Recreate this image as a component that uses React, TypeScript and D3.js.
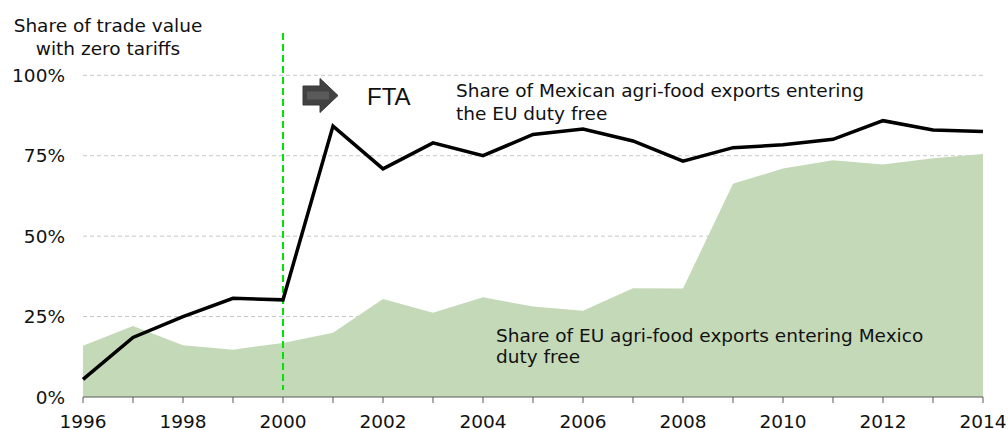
import React from 'react';
import * as d3 from 'd3';

const years = [1996, 1997, 1998, 1999, 2000, 2001, 2002, 2003, 2004, 2005, 2006, 2007, 2008, 2009, 2010, 2011, 2012, 2013, 2014];
const mexicoToEU = [5.5, 18.5, 25.0, 30.7, 30.2, 84.2, 70.9, 79.0, 75.0, 81.6, 83.3, 79.6, 73.3, 77.5, 78.4, 80.1, 85.9, 83.0, 82.5];
const euToMexico = [15.9, 22.1, 16.1, 14.7, 16.8, 20.0, 30.5, 26.2, 31.0, 28.1, 26.8, 33.8, 33.7, 66.3, 71.0, 73.6, 72.3, 74.2, 75.5];
const yTicks = [0, 25, 50, 75, 100];
const xTicks = [1996, 1997, 1998, 1999, 2000, 2001, 2002, 2003, 2004, 2005, 2006, 2007, 2008, 2009, 2010, 2011, 2012, 2013, 2014];
const xLabels = [1996, 1998, 2000, 2002, 2004, 2006, 2008, 2010, 2012, 2014];
const ftaYear = 2000;

const FONT = '"DejaVu Sans", Verdana, sans-serif';
const FS = 18.5;

export default function App() {
  const W = 1008, H = 430;
  const x = d3.scaleLinear().domain([1996, 2014]).range([83, 983]);
  const y = d3.scaleLinear().domain([0, 100]).range([397, 75.3]);

  const area = d3.area<number>()
    .x((_, i) => x(years[i]))
    .y0(y(0))
    .y1(d => y(d));
  const line = d3.line<number>()
    .x((_, i) => x(years[i]))
    .y(d => y(d));

  const ax = x(ftaYear) + 20;
  const ay = 95.5;

  return (
    <svg width={W} height={H} style={{ position: 'absolute', left: 0, top: 0, background: '#fff' }} fontFamily={FONT}>
      {yTicks.filter(t => t > 0).map(t => (
        <line key={t} x1={x(1996)} x2={x(2014)} y1={y(t)} y2={y(t)} stroke="#c6c6c6" strokeWidth={1} strokeDasharray="4,3" />
      ))}
      <path d={area(euToMexico) || ''} fill="#c4d9b7" />
      <line x1={x(1996)} x2={x(2014)} y1={y(0)} y2={y(0)} stroke="#595959" strokeWidth={1} />
      {xTicks.map(t => (
        <line key={t} x1={x(t)} x2={x(t)} y1={y(0)} y2={y(0) + 6} stroke="#595959" strokeWidth={1} />
      ))}
      {xLabels.map(t => (
        <text key={t} x={x(t)} y={427.5} textAnchor="middle" fontSize={FS} fill="#111">{t}</text>
      ))}
      {yTicks.map(t => (
        <text key={t} x={65} y={y(t) + 6.5} textAnchor="end" fontSize={FS} fill="#111">{t}%</text>
      ))}
      <line x1={x(ftaYear)} x2={x(ftaYear)} y1={33} y2={390} stroke="#00e600" strokeWidth={2} strokeDasharray="7,4" />
      <path d={line(mexicoToEU) || ''} fill="none" stroke="#000" strokeWidth={3.5} strokeLinejoin="miter" />
      <polygon
        points={`${ax},${ay - 9.5} ${ax + 17},${ay - 9.5} ${ax + 17},${ay - 17} ${ax + 35},${ay} ${ax + 17},${ay + 17} ${ax + 17},${ay + 9.5} ${ax},${ay + 9.5}`}
        fill="#424242" stroke="#383838" strokeWidth={1}
      />
      <rect x={ax + 4} y={ay - 4} width={22} height={8} fill="#5a5a5a" />
      <text x={367} y={105} fontSize={24} fontFamily='"Liberation Sans", Arial, sans-serif' fill="#111">FTA</text>
      <text x={108} y={32} textAnchor="middle" fontSize={FS} fill="#111">
        <tspan x={108}>Share of trade value</tspan>
        <tspan x={108} dy={22.5}>with zero tariffs</tspan>
      </text>
      <text x={456} y={97} fontSize={FS} fill="#111">
        <tspan x={456}>Share of Mexican agri-food exports entering</tspan>
        <tspan x={456} dy={22.5}>the EU duty free</tspan>
      </text>
      <text x={496} y={341.5} fontSize={FS} fill="#111">
        <tspan x={496}>Share of EU agri-food exports entering Mexico</tspan>
        <tspan x={496} dy={21.5}>duty free</tspan>
      </text>
    </svg>
  );
}
